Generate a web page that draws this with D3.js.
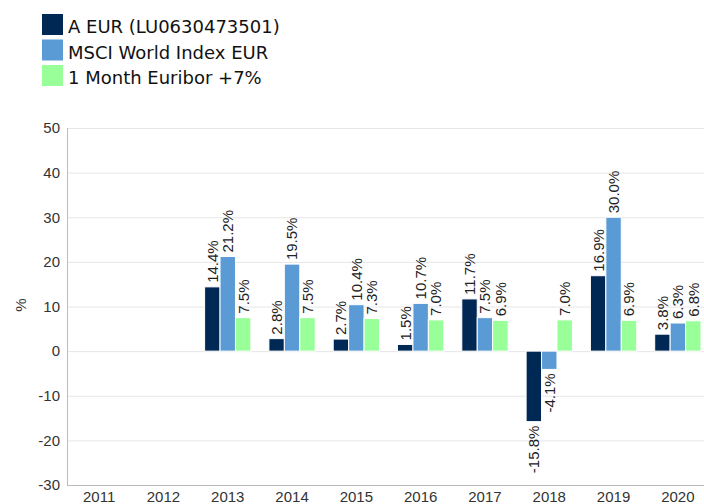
<!DOCTYPE html>
<html>
<head>
<meta charset="utf-8">
<script src="https://cdn.jsdelivr.net/npm/d3@7"></script>
<style>
    html, body { margin: 0; padding: 0; background: #fff; }
    svg { display: block; }
</style>
</head>
<body>
<div id="chart"></div>
<script>
    'use strict';

    var years = ['2011', '2012', '2013', '2014', '2015', '2016', '2017', '2018', '2019', '2020'];
    var seriesNames = ['A EUR (LU0630473501)', 'MSCI World Index EUR', '1 Month Euribor +7%'];
    var fundValues = [null, null, 14.4, 2.8, 2.7, 1.5, 11.7, -15.8, 16.9, 3.8];
    var msciValues = [null, null, 21.2, 19.5, 10.4, 10.7, 7.5, -4.1, 30.0, 6.3];
    var euriborValues = [null, null, 7.5, 7.5, 7.3, 7.0, 6.9, 7.0, 6.9, 6.8];
    var yTicks = [-30, -20, -10, 0, 10, 20, 30, 40, 50];
    var colors = ['#002855', '#5b9bd5', '#99ff99'];

    var width = 704, height = 504;
    var plot = { left: 67, right: 710, top: 128, bottom: 485 };

    var allSeries = [fundValues, msciValues, euriborValues];

    // plain hyphen for negatives, like the source chart
    var locale = d3.formatLocale({ decimal: '.', thousands: ',', grouping: [3], currency: ['', ''], minus: '-' });
    var fmt = locale.format('.1f');
    var tickFmt = locale.format('d');

    var svg = d3.select('#chart').append('svg')
        .attr('width', width)
        .attr('height', height);

    var x0 = d3.scaleBand()
        .domain(years)
        .range([plot.left, plot.right])
        .paddingInner(0.28)
        .paddingOuter(0.14);

    var x1 = d3.scaleBand()
        .domain(d3.range(seriesNames.length))
        .range([0, x0.bandwidth()]);

    var y = d3.scaleLinear()
        .domain([-30, 50])
        .range([plot.bottom, plot.top]);

    // grid
    svg.append('g')
        .selectAll('line')
        .data(yTicks)
        .join('line')
        .attr('x1', plot.left)
        .attr('x2', width)
        .attr('y1', function(d) { return y(d) + 0.5; })
        .attr('y2', function(d) { return y(d) + 0.5; })
        .attr('stroke', '#e6e6e6')
        .attr('stroke-width', 1);

    // y axis labels
    var yAxis = svg.append('g')
        .attr('transform', 'translate(' + plot.left + ',0)')
        .call(d3.axisLeft(y).tickValues(yTicks).tickFormat(tickFmt).tickSize(0).tickPadding(7));
    yAxis.select('.domain').remove();
    yAxis.selectAll('text')
        .attr('font-family', 'Liberation Sans, Arial, sans-serif')
        .attr('font-size', 15)
        .attr('fill', '#333');

    // axis lines
    svg.append('line')
        .attr('x1', plot.left + 0.5).attr('x2', plot.left + 0.5)
        .attr('y1', plot.top).attr('y2', plot.bottom + 0.5)
        .attr('stroke', '#bbb');
    svg.append('line')
        .attr('x1', plot.left).attr('x2', width)
        .attr('y1', plot.bottom + 0.5).attr('y2', plot.bottom + 0.5)
        .attr('stroke', '#bbb');

    // x axis labels
    var xAxis = svg.append('g')
        .attr('transform', 'translate(0,' + plot.bottom + ')')
        .call(d3.axisBottom(x0).tickSize(0).tickPadding(6));
    xAxis.select('.domain').remove();
    xAxis.selectAll('text')
        .attr('font-family', 'Liberation Sans, Arial, sans-serif')
        .attr('font-size', 15)
        .attr('fill', '#333');

    // y title
    svg.append('text')
        .attr('transform', 'translate(21,305) rotate(-90)')
        .attr('text-anchor', 'middle')
        .attr('dy', '0.35em')
        .attr('font-family', 'Liberation Sans, Arial, sans-serif')
        .attr('font-size', 15)
        .attr('fill', '#333')
        .text('%');

    // bars
    var rows = [];
    years.forEach(function(year, i) {
        allSeries.forEach(function(values, s) {
            if (values[i] !== null) {
                rows.push({ year: year, series: s, value: values[i] });
            }
        });
    });

    var bars = svg.append('g');
    bars.selectAll('rect')
        .data(rows)
        .join('rect')
        .attr('x', function(d) { return x0(d.year) + x1(d.series); })
        .attr('width', x1.bandwidth())
        .attr('y', function(d) { return y(Math.max(0, d.value)); })
        .attr('height', function(d) { return Math.abs(y(d.value) - y(0)); })
        .attr('fill', function(d) { return colors[d.series]; })
        .attr('stroke', '#fff')
        .attr('stroke-width', 1);

    bars.selectAll('text')
        .data(rows)
        .join('text')
        .attr('transform', function(d) {
            var cx = x0(d.year) + x1(d.series) + x1.bandwidth() / 2;
            var cy = d.value >= 0 ? y(d.value) - 4 : y(d.value) + 4;
            return 'translate(' + cx + ',' + cy + ') rotate(-90)';
        })
        .attr('text-anchor', function(d) { return d.value >= 0 ? 'start' : 'end'; })
        .attr('dy', '0.36em')
        .attr('font-family', 'Liberation Sans, Arial, sans-serif')
        .attr('font-size', 15)
        .attr('fill', '#222')
        .text(function(d) { return fmt(d.value) + '%'; });

    // legend
    var legend = svg.append('g')
        .selectAll('g')
        .data(seriesNames)
        .join('g')
        .attr('transform', function(d, i) { return 'translate(42,' + (14 + i * 25.5) + ')'; });
    legend.append('rect')
        .attr('width', 21)
        .attr('height', 21)
        .attr('fill', function(d, i) { return colors[i]; });
    legend.append('text')
        .attr('x', 26)
        .attr('y', 19)
        .attr('font-family', 'DejaVu Sans, Verdana, sans-serif')
        .attr('font-size', 18)
        .attr('fill', '#111')
        .text(function(d) { return d; });
</script>
</body>
</html>
